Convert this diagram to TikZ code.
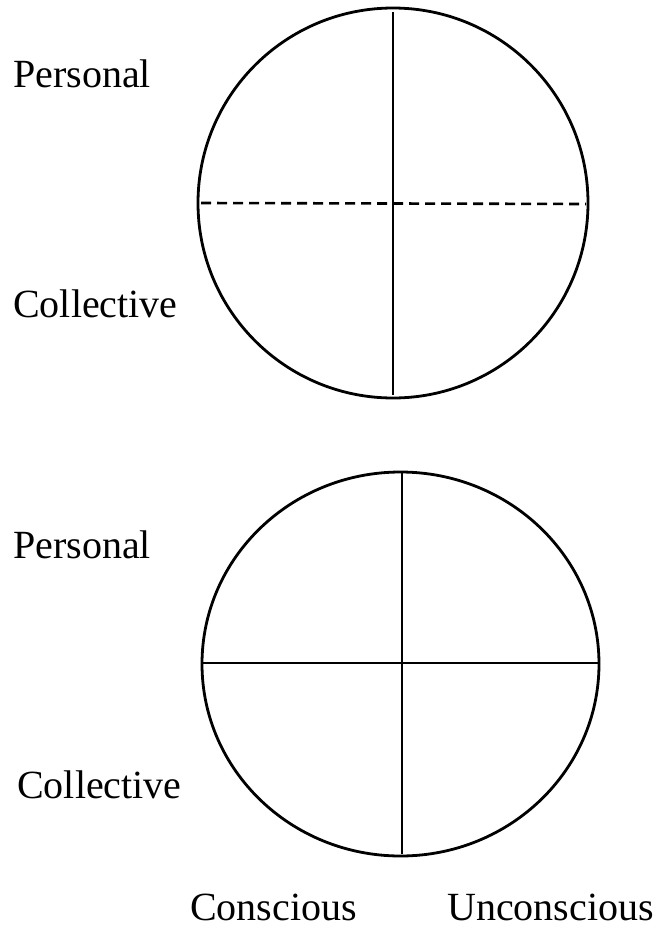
\documentclass[tikz,border=0pt]{standalone}
\usepackage{fontspec}
\setmainfont{Liberation Serif}
\usetikzlibrary{shapes.geometric}
\begin{document}
\begin{tikzpicture}[x=1pt,y=-1pt,
  lbl/.style={anchor=base west,inner sep=0pt,font=\fontsize{40}{44}\selectfont},
  ring/.style={draw=black,line width=2.8pt,inner sep=0pt,outer sep=0pt},
  divider/.style={draw=black,line width=2.6pt},
  dashdiv/.style={divider,dash pattern=on 10pt off 6pt}]
\useasboundingbox (0,0) rectangle (658,932);
% top circle
\node[ring,circle,minimum size=390pt] (c1) at (393,203) {};
\coordinate (c1t) at (393,12);
\coordinate (c1b) at (393,395);
\coordinate (c1l) at (201,203);
\coordinate (c1r) at (586,204);
\draw[divider] (c1t) -- (c1b);
\draw[dashdiv] (c1l) -- (c1r);
% bottom ellipse
\node[ring,ellipse,minimum width=397pt,minimum height=384pt] (c2) at (400.5,664) {};
\coordinate (c2t) at (402,473);
\coordinate (c2b) at (402,854);
\coordinate (c2l) at (203,663);
\coordinate (c2r) at (598,663);
\draw[divider] (c2t) -- (c2b);
\draw[divider] (c2l) -- (c2r);
% labels
\node[lbl] (p1) at (13,87) {Personal};
\node[lbl] (k1) at (13,317) {Collective};
\node[lbl] (p2) at (13,558) {Personal};
\node[lbl] (k2) at (17,798) {Collective};
\node[lbl] (cs) at (190,920) {Conscious};
\node[lbl] (uc) at (447,920) {Unconscious};
\end{tikzpicture}
\end{document}
